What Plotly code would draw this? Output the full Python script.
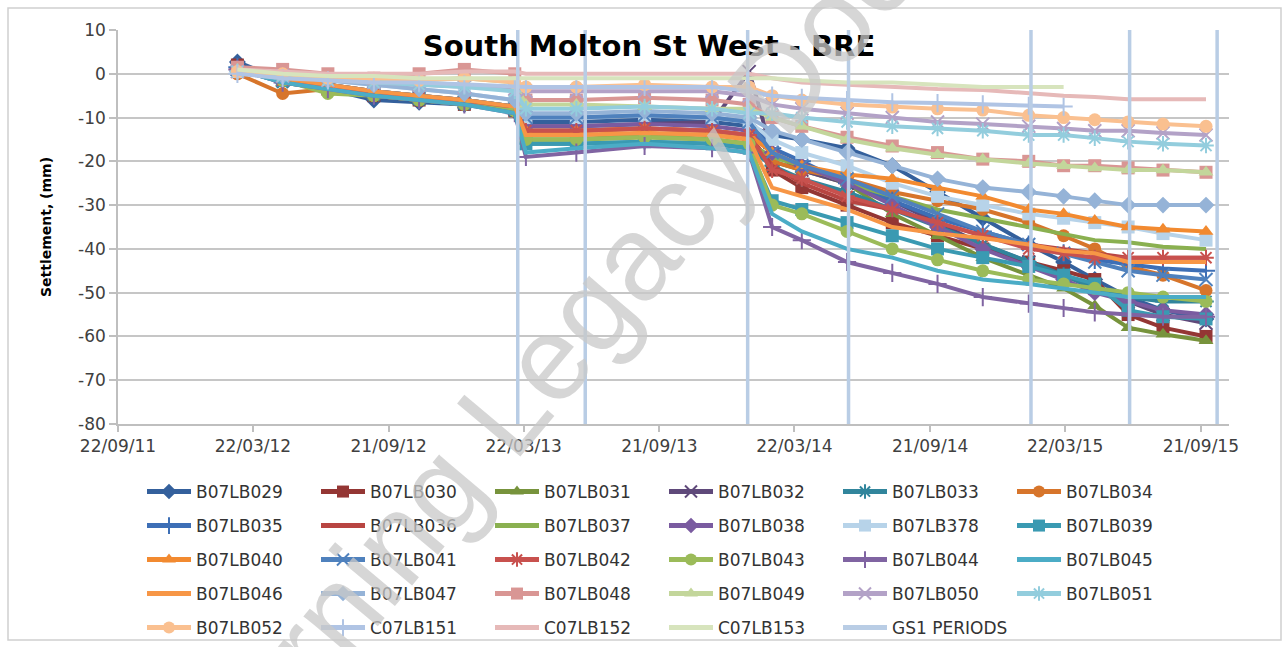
import plotly.graph_objects as go

# ---------------- data ----------------
dates = ["2012-03-01", "2012-05-01", "2012-07-01", "2012-09-01", "2012-11-01", "2013-01-01",
         "2013-03-10", "2013-03-25", "2013-06-01", "2013-09-01", "2013-12-01", "2014-01-20",
         "2014-02-20", "2014-04-01", "2014-06-01", "2014-08-01", "2014-10-01", "2014-12-01",
         "2015-02-01", "2015-03-20", "2015-05-01", "2015-06-15", "2015-08-01", "2015-09-28"]

b07lb029 = [2.7, -1.5, -3.5, -6, -6.5, -7, -8.5, -11, -11, -10.5, -11, -12, -14, -15, -17, -21, -27, -33, -39, -43, -47, -51, -54, -56]
b07lb030 = [2, -1.5, -3.5, -5, -6, -7, -8.5, -13, -13, -12.5, -13, -14, -22, -26, -30, -34, -37, -40, -43, -45, -47, -55, -58, -60]
b07lb031 = [1.5, -2, -3.5, -5, -6, -7, -8.5, -15, -15, -14.5, -15, -16, -20, -22, -25, -32, -37, -42, -46, -49, -53, -58, -59.5, -61]
b07lb032 = [1, -1.5, -3, -4.5, -5.5, -6.5, -8, -12, -12, -11.5, -11, 0.5, -18, -22, -25, -29, -34, -39, -43, -46, -49, -52, -55, -57]
b07lb033 = [1, -2, -3.5, -5, -6, -7, -8.5, -16, -16, -15.5, -16, -17, -21, -24, -27, -31, -35, -39, -43, -46, -49, -51, -52, -52]
b07lb034 = [0, -4.5, -3.5, -5, -6, -7, -8, -14, -14, -13.5, -14, -15, -20, -22, -24, -27, -29, -31, -34, -37, -40, -44, -46, -49.5]
b07lb035 = [1.5, -1, -3, -4.5, -5.5, -6.5, -8, -10, -10, -9.5, -10, -11, -17, -20, -25, -29, -33, -36, -39, -41, -42.5, -43.5, -44.5, -45]
b07lb036 = [1, -1.5, -3, -4.5, -5.5, -6.5, -8, -13, -13, -12.5, -13, -14, -21, -25, -29, -31, -34, -37, -39, -40, -41, -42, -42, -42]
b07lb037 = [1, -1, -2.5, -4, -5, -6, -7.5, -15, -15, -14, -15, -16, -19, -21, -25, -28, -31, -33, -35, -36.5, -38, -38.5, -39.5, -40]
b07lb038 = [1, -1, -2.5, -4, -5, -6, -7.5, -12, -12, -11.5, -12, -13, -18, -21, -25, -30, -35, -40, -44, -47, -50, -52, -54, -55]
b07lb378 = [0.5, -0.5, -1.5, -2.5, -3.5, -4.5, -6, -10, -10, -9.5, -10, -11, -15, -18, -21, -25, -28, -30, -32, -33, -34, -35, -36.5, -38]
b07lb039 = [1, -1.5, -3, -4.5, -5.5, -6.5, -8, -16, -16, -15.5, -16, -17, -29, -31, -34, -37, -40, -42, -44, -46, -48, -54, -55.5, -56]
b07lb040 = [1, -1, -2.5, -4, -5, -6, -7.5, -13, -13, -12.5, -13, -14, -18, -21, -23, -24, -26, -28, -31, -32, -33.5, -35, -35.5, -36]
b07lb041 = [1, -1, -2.5, -4, -5, -6, -7.5, -10, -10, -9.5, -10, -11, -18, -21, -24, -28, -32, -36, -39, -41, -43, -45, -46, -47]
b07lb042 = [1, -1.5, -3, -4.5, -5.5, -6.5, -8, -13, -13, -12.5, -13, -14, -22, -24, -28, -31, -34, -37, -40, -41, -42, -42, -42, -42]
b07lb043 = [1, -1.5, -4.5, -5, -6, -7, -8.5, -15, -15, -14.5, -15, -16, -30, -32, -36, -40, -42.5, -45, -47, -48, -49, -50, -51, -52]
b07lb044 = [1, -2, -3.5, -5, -6, -7, -9, -19, -18, -16.5, -17, -18, -35, -38, -43, -45.5, -48, -51, -52.5, -53.5, -54.5, -55, -55.5, -55.5]
b07lb045 = [1, -2, -3.5, -5, -6, -7, -9, -18, -17, -16, -17, -18, -32, -36, -40, -42, -45, -47, -48, -49, -50, -51, -51, -51]
b07lb046 = [1, -1, -2.5, -4, -5, -6, -7.5, -14, -14, -13.5, -14, -15, -26, -28, -31, -35, -36.5, -37.5, -39, -40.5, -41, -43, -43, -43]
b07lb047 = [0.5, -0.5, -1.5, -2.5, -3.5, -4.5, -6, -9, -9, -8.5, -9, -10, -13, -15, -18, -21, -24, -26, -27, -28, -29, -30, -30, -30]
b07lb048 = [1.5, 1, 0, -1, 0, 1, 0, -6, -6, -5.5, -6, -7, -10, -12, -14.5, -16.5, -18, -19.5, -20, -21, -21, -21.5, -22, -22.5]
b07lb049 = [1, 0, -1, -1.5, -1.5, -1, -2, -7, -7, -7.5, -8, -8, -10, -12, -15, -17, -18.5, -19.5, -20.5, -21, -21.5, -22, -22, -22.5]
b07lb050 = [0.5, -0.5, -1.5, -2, -2.5, -3, -3.5, -4, -4, -4, -4, -5, -7, -8, -9, -10, -11, -11.5, -12, -12.5, -13, -13, -13.5, -14]
b07lb051 = [0.5, -0.5, -1.5, -2, -2.5, -3, -4, -8, -8, -7.5, -8, -9, -9, -10, -11, -12, -12.5, -13, -14, -14, -14.7, -15.5, -16, -16.4]
b07lb052 = [0.5, 0, -1, -1, -1.5, -1, -2, -3, -3, -2.5, -3, -3, -5, -6, -7, -7.6, -8, -8.3, -9.5, -10, -10.5, -11, -11.5, -12]
c07lb151 = [0, -1, -1.5, -2, -2, -2.5, -3, -3, -3, -3, -3, -4, -5, -5.5, -6, -6.5, -6.7, -7, -7.3, -7.5, None, None, None, None]
c07lb152 = [1, 0.5, 0, 0, 0, 0.5, 0.5, 0, 0, 0, 0, 0, -1, -2, -2.5, -3, -3.5, -3.7, -4.5, -5, -5.3, -5.8, -5.8, -5.8]
c07lb153 = [1, 0, -0.5, -0.5, -1, -1, -1, -1, -1, -1, -1, -1, -1, -1.5, -2, -2, -2.5, -3, -3, -3, None, None, None, None]

series_names = ["B07LB029", "B07LB030", "B07LB031", "B07LB032", "B07LB033", "B07LB034",
                "B07LB035", "B07LB036", "B07LB037", "B07LB038", "B07LB378", "B07LB039",
                "B07LB040", "B07LB041", "B07LB042", "B07LB043", "B07LB044", "B07LB045",
                "B07LB046", "B07LB047", "B07LB048", "B07LB049", "B07LB050", "B07LB051",
                "B07LB052", "C07LB151", "C07LB152", "C07LB153"]
series_values = [b07lb029, b07lb030, b07lb031, b07lb032, b07lb033, b07lb034,
                 b07lb035, b07lb036, b07lb037, b07lb038, b07lb378, b07lb039,
                 b07lb040, b07lb041, b07lb042, b07lb043, b07lb044, b07lb045,
                 b07lb046, b07lb047, b07lb048, b07lb049, b07lb050, b07lb051,
                 b07lb052, c07lb151, c07lb152, c07lb153]
series_colors = ["#34609C", "#943634", "#77933C", "#5F497A", "#31859C", "#D7752B",
                 "#3D6FB6", "#B84542", "#8AB050", "#7A5BA0", "#B7D3E9", "#3A9AB2",
                 "#F28A30", "#4F81BD", "#C8514E", "#9BBB59", "#8064A2", "#4BACC6",
                 "#F79646", "#95B3D7", "#D99694", "#C3D69B", "#B3A2C7", "#93CDDD",
                 "#FAC090", "#B0C4E4", "#E6B9B8", "#D7E4BD"]
series_symbols = ["diamond", "square", "triangle-up", "x-thin-open", "asterisk-open", "circle",
                  "cross-thin-open", None, None, "diamond", "square", "square",
                  "triangle-up", "x-thin-open", "asterisk-open", "circle", "cross-thin-open", None,
                  None, "diamond", "square", "triangle-up", "x-thin-open", "asterisk-open",
                  "circle", "cross-thin-open", None, None]

gs1_name = "GS1 PERIODS"
gs1_dates = ["2013-03-14", "2013-06-13", "2014-01-18", "2014-06-03", "2015-02-04", "2015-06-17", "2015-10-13"]
gs1_extent = [10, -80]
gs1_color = "#B9CDE5"

x_tick_dates = ["2011-09-22", "2012-03-22", "2012-09-21", "2013-03-22", "2013-09-21",
                "2014-03-22", "2014-09-21", "2015-03-22", "2015-09-21"]
x_tick_labels = ["22/09/11", "22/03/12", "21/09/12", "22/03/13", "21/09/13",
                 "22/03/14", "21/09/14", "22/03/15", "21/09/15"]
y_tick_vals = [10, 0, -10, -20, -30, -40, -50, -60, -70, -80]
y_tick_labels = ["10", "0", "-10", "-20", "-30", "-40", "-50", "-60", "-70", "-80"]

# ---------------- figure ----------------
W, H = 1287, 647
L, R, T, B = 118, 58, 30, 223
plot_w = W - L - R
plot_h = H - T - B

FONT = "DejaVu Sans"
legend_keys = ["legend", "legend2", "legend3", "legend4", "legend5"]

fig = go.Figure()
for i, (name, vals, col, sym) in enumerate(zip(series_names, series_values, series_colors, series_symbols)):
    kw = dict(x=dates, y=vals, name=name, legend=legend_keys[i // 6],
              line=dict(color=col, width=4), connectgaps=False)
    if sym is None:
        kw["mode"] = "lines"
    else:
        thin = sym.endswith("-open")
        kw["mode"] = "lines+markers"
        kw["marker"] = dict(symbol=sym, size=13, color=col,
                            line=dict(color=col, width=2 if thin else 0))
    fig.add_trace(go.Scatter(**kw))

gx, gy = [], []
for d in gs1_dates:
    gx += [d, d, None]
    gy += [gs1_extent[0], gs1_extent[1], None]
fig.add_trace(go.Scatter(x=gx, y=gy, name=gs1_name, mode="lines", legend="legend5",
                         line=dict(color=gs1_color, width=3.5)))

row_px = [492, 526, 560, 594, 628]
leg_x = (142 - L) / plot_w
for k, key in enumerate(legend_keys):
    fig.layout[key] = dict(orientation="h", x=leg_x, xanchor="left",
                           y=(H - B - row_px[k]) / plot_h, yanchor="middle",
                           entrywidth=115, entrywidthmode="pixels", itemwidth=44,
                           itemsizing="constant",
                           font=dict(family=FONT, size=17, color="#333333"),
                           bgcolor="rgba(0,0,0,0)", traceorder="normal")

fig.update_layout(
    width=W, height=H,
    margin=dict(l=L, r=R, t=T, b=B, autoexpand=False),
    paper_bgcolor="white", plot_bgcolor="white",
    title=dict(text="South Molton St West - BRE", x=649 / W, xanchor="center",
               y=1 - 46 / H, yanchor="middle",
               font=dict(family=FONT, size=29, color="#000000", weight="bold")),
    xaxis=dict(type="date", range=["2011-09-22", "2015-10-29"],
               tickvals=x_tick_dates, ticktext=x_tick_labels,
               showgrid=False, zeroline=False, showline=True, linecolor="#BFBFBF", linewidth=1.5,
               ticks="outside", ticklen=6, tickcolor="#BFBFBF", tickwidth=1.5,
               tickfont=dict(family=FONT, size=17, color="#404040")),
    yaxis=dict(range=[-80, 10], tickvals=y_tick_vals, ticktext=y_tick_labels,
               showgrid=True, gridcolor="#C6C6C6", gridwidth=1.5, zeroline=False,
               showline=True, linecolor="#BFBFBF", linewidth=1.5,
               ticks="outside", ticklen=7, tickcolor="#BFBFBF", tickwidth=1.5,
               tickfont=dict(family=FONT, size=17, color="#404040"),
               title=dict(text="Settlement, (mm)", standoff=23,
                          font=dict(family=FONT, size=14, color="#000000", weight="bold"))),
    showlegend=True,
)

# outer chart border
fig.add_shape(type="rect", xref="paper", yref="paper",
              x0=(8 - L) / plot_w, x1=(1281 - L) / plot_w,
              y0=(H - B - 640) / plot_h, y1=(H - B - 8) / plot_h,
              line=dict(color="#D0D0D0", width=1.5), fillcolor="rgba(0,0,0,0)", layer="below")

# watermark
fig.add_annotation(text="Learning Legacy Document", xref="paper", yref="paper",
                   x=(632 - L) / plot_w, y=(H - B - 258) / plot_h,
                   xanchor="center", yanchor="middle", showarrow=False,
                   textangle=-50, font=dict(family="Liberation Sans", size=120,
                                            color="rgba(200,200,200,0.75)"))

fig.write_html("out.html", config={"displayModeBar": False},
               post_script="document.body.style.margin='0px';")
